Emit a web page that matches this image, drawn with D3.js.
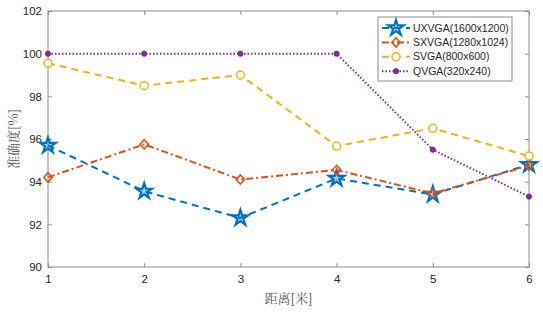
<!DOCTYPE html>
<html>
<head>
<meta charset="utf-8">
<script src="https://cdn.jsdelivr.net/npm/d3@7"></script>
<style>
  body { margin: 0; background: #fff; }
  svg { display: block; font-family: "Liberation Sans", Arial, sans-serif; }
</style>
</head>
<body>
<div id="chart"></div>
<script>
var distances = [1, 2, 3, 4, 5, 6];
var yTicks = [90, 92, 94, 96, 98, 100, 102];
var seriesNames = ["UXVGA(1600x1200)", "SXVGA(1280x1024)", "SVGA(800x600)", "QVGA(320x240)"];
var uxvga = [95.7, 93.55, 92.3, 94.15, 93.4, 94.8];
var sxvga = [94.2, 95.75, 94.1, 94.55, 93.45, 94.75];
var svga = [99.55, 98.5, 99.0, 95.67, 96.5, 95.2];
var qvga = [100, 100, 100, 100, 95.5, 93.3];

var width = 543, height = 314;
var margin = {top: 11, right: 14, bottom: 47, left: 48};

var svg = d3.select("#chart").append("svg")
  .attr("width", width)
  .attr("height", height);

var x = d3.scaleLinear().domain([1, 6]).range([margin.left, width - margin.right]);
var y = d3.scaleLinear().domain([90, 102]).range([height - margin.bottom, margin.top]);

var axisColor = "#8c8c8c";
var textColor = "#262626";

// series styles (MATLAB default colours)
var styles = [
  {values: uxvga, color: "#0072BD", dash: "7,5", marker: "star"},
  {values: sxvga, color: "#D95319", dash: "7,3,2,3", marker: "diamond"},
  {values: svga, color: "#EDB120", dash: "7,5", marker: "circle"},
  {values: qvga, color: "#7E2F8E", dash: "1.5,2", marker: "dot"}
];

// box
svg.append("rect")
  .attr("x", margin.left).attr("y", margin.top)
  .attr("width", width - margin.right - margin.left)
  .attr("height", height - margin.bottom - margin.top)
  .attr("fill", "none").attr("stroke", axisColor).attr("stroke-width", 1);

// axes
svg.append("g")
  .attr("transform", `translate(0,${height - margin.bottom})`)
  .call(d3.axisBottom(x).tickValues(distances).tickSize(-4).tickPadding(8).tickFormat(d3.format("d")));
svg.append("g")
  .attr("transform", `translate(${margin.left},0)`)
  .call(d3.axisLeft(y).tickValues(yTicks).tickSize(-4).tickPadding(6));
// mirrored ticks on top and right
svg.append("g")
  .attr("transform", `translate(0,${margin.top})`)
  .call(d3.axisTop(x).tickValues(distances).tickSize(-4).tickFormat(""));
svg.append("g")
  .attr("transform", `translate(${width - margin.right},0)`)
  .call(d3.axisRight(y).tickValues(yTicks).tickSize(-4).tickFormat(""));

svg.selectAll(".domain").remove();
svg.selectAll(".tick line").attr("stroke", axisColor);
svg.selectAll(".tick text").attr("fill", textColor).style("font-size", "11.5px")
  .style("font-family", "'Liberation Sans', Arial, sans-serif");

// axis titles
svg.append("text")
  .attr("x", (margin.left + width - margin.right) / 2)
  .attr("y", 303)
  .attr("text-anchor", "middle")
  .attr("fill", "#555")
  .style("font-size", "13px")
  .style("font-family", "'Noto Serif CJK SC', 'Noto Sans CJK SC', serif")
  .text("距离[米]");
svg.append("text")
  .attr("transform", `translate(18,${(margin.top + height - margin.bottom) / 2}) rotate(-90)`)
  .attr("text-anchor", "middle")
  .attr("fill", "#555")
  .style("font-size", "13px")
  .style("font-family", "'Noto Serif CJK SC', 'Noto Sans CJK SC', serif")
  .text("准确度[%]");

function drawMarker(g, type, color) {
  if (type === "star") {
    g.append("path")
      .attr("d", d3.symbol().type(d3.symbolStar).size(75)())
      .attr("fill", color).attr("fill-opacity", 0.35)
      .attr("stroke", color).attr("stroke-width", 2.2).attr("stroke-linejoin", "miter");
  } else if (type === "diamond") {
    g.append("path")
      .attr("d", "M0,-4.6L4.2,0L0,4.6L-4.2,0Z")
      .attr("fill", "none").attr("stroke", color).attr("stroke-width", 1.6);
  } else if (type === "circle") {
    g.append("circle").attr("r", 4)
      .attr("fill", "#fff").attr("stroke", color).attr("stroke-width", 1.5);
  } else {
    g.append("circle").attr("r", 2.6)
      .attr("fill", color).attr("stroke", color).attr("stroke-width", 1);
  }
}

var line = d3.line().x((d, i) => x(distances[i])).y(d => y(d));

styles.forEach(function(s) {
  var g = svg.append("g");
  g.append("path")
    .datum(s.values)
    .attr("d", line)
    .attr("fill", "none")
    .attr("stroke", s.color)
    .attr("stroke-width", 2)
    .attr("stroke-dasharray", s.dash);
  s.values.forEach(function(v, i) {
    var m = g.append("g").attr("transform", `translate(${x(distances[i])},${y(v)})`);
    drawMarker(m, s.marker, s.color);
  });
});

// legend
var legend = svg.append("g");
legend.append("rect")
  .attr("x", 378).attr("y", 17).attr("width", 134).attr("height", 64)
  .attr("fill", "#fff").attr("stroke", axisColor).attr("stroke-width", 1);
styles.forEach(function(s, i) {
  var ly = 28 + i * 14.4;
  legend.append("line")
    .attr("x1", 382).attr("x2", 410).attr("y1", ly).attr("y2", ly)
    .attr("stroke", s.color).attr("stroke-width", 2)
    .attr("stroke-dasharray", s.dash);
  var m = legend.append("g").attr("transform", `translate(396,${ly})`);
  drawMarker(m, s.marker, s.color);
  legend.append("text")
    .attr("x", 413).attr("y", ly)
    .attr("dy", "0.35em")
    .attr("fill", textColor)
    .style("font-size", "10.5px")
    .text(seriesNames[i]);
});
</script>
</body>
</html>
